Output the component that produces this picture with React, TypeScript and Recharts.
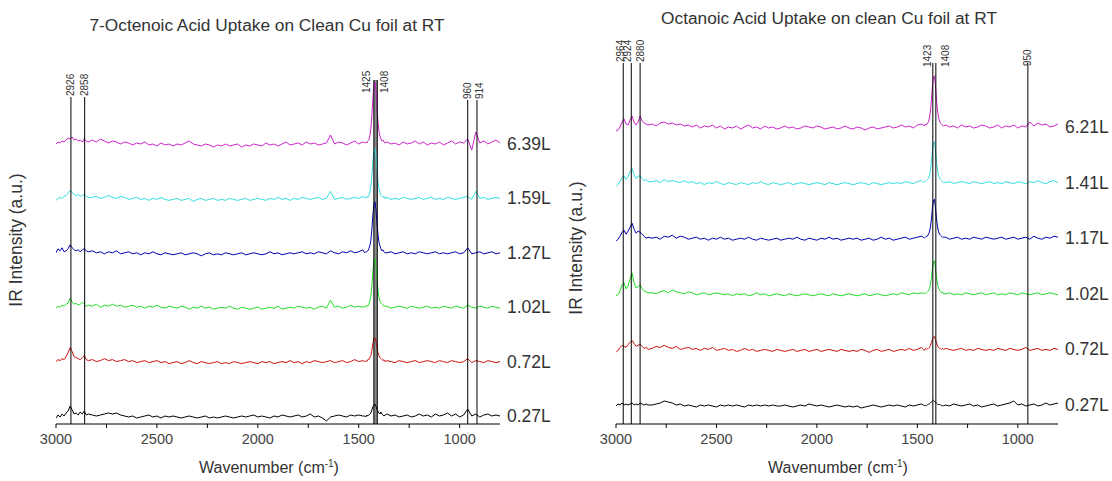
import React from "react";
import {
  LineChart,
  Line,
  XAxis,
  YAxis,
  ReferenceLine,
  ReferenceDot,
  ReferenceArea,
} from "recharts";

const FONT = '"Liberation Sans", Arial, sans-serif';

// wavenumber grid (cm-1), denser around the C-H and COO- bands
const WN = [
  3000, 2990, 2980, 2970, 2960, 2950, 2940, 2930, 2920, 2910, 2900, 2890, 2880, 2870, 2860, 2850, 2840,
  2820, 2800, 2780, 2760, 2740, 2720, 2700, 2680, 2660, 2640,
  2620, 2600, 2580, 2560, 2540, 2520, 2500, 2480, 2460, 2440,
  2420, 2400, 2380, 2360, 2340, 2320, 2300, 2280, 2260, 2240,
  2220, 2200, 2180, 2160, 2140, 2120, 2100, 2080, 2060, 2040,
  2020, 2000, 1980, 1960, 1940, 1920, 1900, 1880, 1860, 1840,
  1820, 1800, 1780, 1760, 1740, 1720, 1700, 1680, 1660, 1640,
  1620, 1600, 1580, 1560, 1540, 1520, 1500, 1480,
  1470, 1465, 1460, 1455, 1450, 1445, 1440, 1435, 1430, 1425, 1420, 1415, 1410, 1405, 1400, 1395, 1390, 1385, 1380, 1375, 1370,
  1360, 1340, 1320, 1300, 1280, 1260, 1240, 1220, 1200, 1180,
  1160, 1140, 1120, 1100, 1080, 1060, 1040, 1020, 1000, 980,
  960, 940, 920, 900, 880, 860, 840, 820, 800,
];

// ---- 7-octenoic acid (left) ----
const L_027 = [
  -1, 2, 0, 3, 1, 4, 6, 11, 7, 3, 4, 2, 5, 3, 6, 2, 3,
  2, 1, 2, 3, 4, 3, 4, 2, 1, 0,
  1, -1, 0, 1, 2, 0, 1, -1, 1, 0,
  1, 0, -1, 0, 1, 0, -1, 0, 1, -1,
  0, -1, 0, 1, 0, -1, 0, 1, 0, 1,
  2, 0, 1, 0, -1, 1, 0, 2, 1, 0,
  1, 2, 0, 1, 3, 0, 1, -1, -4, 0,
  1, 2, 1, 0, 2, 1, 2, 1,
  1, 0, 2, 1, 2, 3, 4, 7, 10, 12, 13, 11, 8, 6, 4, 3, 5, 3, 2, 1, 2,
  3, 1, 2, 0, 1, 2, 0, 1, 3, 1,
  2, 0, 3, 1, 2, 4, 1, 3, 0, 2,
  8, 1, 3, 0, 2, 3, 1, 2, 1,
];
const L_072 = [
  1, 3, 2, 4, 3, 6, 10, 15, 11, 6, 5, 4, 3, 5, 7, 3, 2,
  3, 1, 2, 4, 2, 3, 1, 2, 3, 1,
  2, 0, 1, 2, 0, 1, 2, 0, 1, -1,
  0, 1, -1, 0, 2, 0, -1, 1, 0, -1,
  0, 1, -1, 0, -1, 1, 0, -1, 0, 1,
  0, -1, 1, 0, 1, -1, 0, 1, 0, 2,
  0, 1, -1, 1, 0, 2, 1, 0, 1, 2,
  0, 1, 2, 0, 1, 3, 1, 2,
  1, 2, 1, 3, 3, 5, 7, 12, 19, 24, 25, 22, 16, 10, 7, 5, 4, 3, 2, 3, 1,
  2, 1, 0, 2, 1, 0, 1, 2, 0, 1,
  2, 1, 0, 2, 1, 0, 2, 1, 0, 1,
  4, 0, 2, 1, 0, 2, 1, 0, 1,
];
const L_102 = [
  0, 2, 1, 3, 2, 4, 5, 10, 6, 4, 5, 3, 4, 6, 4, 2, 3,
  2, 4, 1, 3, 2, 4, 2, 3, 1, 2,
  3, 1, 2, 0, 2, 1, 3, 1, 0, 2,
  1, 0, 2, 1, -1, 1, 0, 2, 0, 1,
  -1, 0, 1, 0, 2, 0, -1, 1, 0, -1,
  0, 1, -1, 0, 1, 0, 2, -1, 0, 1,
  0, 2, 1, 0, 1, -1, 1, 2, 0, 8,
  1, 2, 0, 1, 3, 1, 2, 1,
  2, 1, 3, 2, 4, 7, 12, 22, 36, 47, 50, 44, 31, 19, 11, 7, 5, 4, 3, 2, 2,
  2, 0, 1, 2, 1, 0, 2, 1, 0, 1,
  2, 0, 1, 0, 2, 1, 0, 2, 1, 0,
  3, 1, 0, 2, 1, 0, 2, 1, 0,
];
const L_127 = [
  1, 5, 3, 6, 2, 3, 5, 9, 6, 4, 3, 4, 2, 4, 5, 3, 2,
  3, 1, 2, 0, 2, 1, 3, 0, 1, 2,
  0, 1, -1, 1, 0, 2, 0, -1, 1, 0,
  -1, 0, 1, -1, 0, 1, 0, -2, 0, 1,
  -1, 0, -1, 1, 0, -1, 0, 1, -1, 0,
  1, 0, -1, 0, 2, 0, 1, -1, 0, 1,
  0, 1, 2, 0, 1, 0, 2, 1, 0, 3,
  1, 0, 2, 1, 3, 1, 2, 4,
  1, 2, 2, 3, 5, 8, 13, 24, 38, 49, 52, 45, 32, 20, 12, 8, 5, 3, 4, 2, 1,
  1, 2, 0, 1, 2, 0, 1, 0, 2, 1,
  0, 1, 2, 0, 1, 0, 1, 2, 0, 1,
  6, 0, 1, 2, 0, 1, 2, 0, 1,
];
const L_159 = [
  -1, 1, 2, 1, 3, 4, 6, 9, 7, 5, 4, 5, 3, 4, 5, 3, 2,
  2, 3, 1, 2, 4, 2, 1, 3, 2, 0,
  1, 2, 0, 1, -1, 1, 0, 2, 0, -1,
  0, 1, -1, 0, 1, -2, 0, 1, -1, 0,
  1, -1, 0, -1, 1, 0, -1, 0, 1, -1,
  0, 1, 0, -1, 1, 0, 2, 0, 1, -1,
  1, 0, 2, 1, 0, 1, 2, 0, 1, 8,
  0, 1, 2, 0, 1, 2, 1, 3,
  2, 1, 3, 2, 4, 7, 13, 23, 37, 48, 51, 45, 31, 19, 11, 7, 4, 3, 2, 3, 1,
  2, 0, 1, 0, 2, 1, 0, 1, 2, 0,
  1, 2, 0, 1, 0, 2, 1, 0, 1, 2,
  3, 0, 8, 1, 2, 0, 1, 2, 1,
];
const L_639 = [
  1, 3, 2, 4, 3, 5, 7, 6, 8, 5, 6, 4, 5, 3, 6, 4, 3,
  5, 3, 6, 4, 2, 4, 3, 1, 3, 2,
  0, 2, 1, 3, 0, 1, -1, 2, 0, 1,
  -1, 1, 0, 2, 4, 1, 0, -1, 1, 0,
  -2, 0, -1, 1, -1, 0, 1, -2, 0, -1,
  1, 0, -1, 2, 0, 1, -1, 1, 3, 0,
  1, 2, 0, 3, 1, 2, 0, 1, 2, 10,
  1, 3, 2, 0, 2, 4, 1, 3,
  2, 3, 2, 4, 5, 9, 16, 29, 46, 59, 63, 55, 39, 24, 14, 9, 6, 4, 5, 3, 2,
  3, 1, 2, 0, 3, 1, 2, 4, 1, 3,
  0, 2, 1, 3, 0, 2, 4, 1, 3, 2,
  6, -5, 13, 2, 4, 1, 3, 5, 2,
];

// ---- octanoic acid (right) ----
const R_027 = [
  0, 2, 1, 3, 1, 2, 1, 2, 3, 1, 2, 1, 3, 2, 1, 2, 1,
  1, 2, 3, 5, 4, 3, 1, 2, 0, 1,
  0, -1, 1, 0, 1, 0, -1, 1, 0, 1,
  0, 1, 0, -1, 1, 0, 1, 0, 1, 0,
  1, 0, 0, 1, 0, -1, 0, 1, 0, 2,
  1, 0, 1, 0, -1, 0, 1, 0, -1, 0,
  -1, 0, -2, -1, 0, 1, 0, -1, 0, 1,
  0, 1, 0, -1, 1, 0, 1, 2,
  1, 0, 1, 0, 1, 2, 2, 3, 4, 5, 6, 5, 4, 3, 2, 1, 2, 1, 0, 1, 0,
  1, 0, 2, 1, 0, 1, 2, 0, 1, -1,
  0, 1, 2, 0, 1, 2, 3, 5, 1, 2,
  0, 1, 2, 0, 1, 3, 1, 2, 3,
];
const R_072 = [
  -2, 0, 3, 5, 4, 3, 6, 8, 10, 7, 4, 5, 6, 4, 2, 3, 1,
  2, 4, 3, 5, 3, 2, 4, 1, 2, 3,
  1, 2, 0, 2, 1, 3, 0, 1, 2, 0,
  1, -1, 0, 2, 0, 1, -1, 0, 1, 0,
  -1, 1, 0, -1, 0, 1, -1, 0, 1, -1,
  0, 1, -1, 0, 1, 0, -1, 1, 0, -1,
  0, -1, 1, 0, -2, 0, 1, -1, 0, 1,
  -1, 0, 1, 0, 2, 0, 1, 3,
  1, 0, 2, 1, 2, 2, 3, 5, 8, 11, 13, 14, 11, 8, 5, 3, 2, 2, 1, 2, 1,
  2, 1, 0, 1, 2, 0, 1, 0, 2, 1,
  0, 1, 0, 2, 1, 0, 2, 1, 0, 1,
  3, 0, 1, 2, 0, 1, 0, 2, 1,
];
const R_102 = [
  -1, 0, 4, 10, 12, 6, 9, 16, 22, 12, 7, 8, 10, 6, 4, 3, 2,
  2, 1, 3, 4, 2, 5, 3, 2, 1, 3,
  2, 0, 1, 2, 0, 1, 2, 1, 0, 1,
  -1, 1, 0, 1, -1, 0, 2, 0, 1, -1,
  0, 1, 0, -1, 1, 0, -1, 0, 1, 0,
  -1, 0, 1, 0, -1, 1, 0, -1, 0, 1,
  0, -1, 0, 1, -1, 0, 1, 0, -1, 0,
  1, 0, 2, 1, 0, 2, 1, 2,
  1, 2, 1, 2, 3, 4, 6, 10, 17, 26, 33, 34, 27, 18, 11, 7, 5, 3, 2, 3, 1,
  1, 2, 0, 1, 0, 2, 1, 0, 1, 2,
  0, 1, 2, 0, 1, 0, 2, 1, 0, 2,
  1, 0, 1, 2, 0, 1, 2, 1, 0,
];
const R_117 = [
  -2, 0, 3, 7, 9, 5, 8, 12, 16, 10, 6, 8, 7, 5, 3, 1, 2,
  1, 2, 0, 3, 2, 4, 1, 3, 2, 0,
  1, 2, 0, 1, -1, 1, 0, 2, 0, 1,
  -1, 0, 1, 0, 2, 0, -1, 1, 0, -1,
  0, 1, -1, 0, 1, 0, 2, 0, -1, 1,
  0, -1, 1, 0, 2, 0, 1, -1, 0, 1,
  0, 1, -1, 0, 1, -1, 0, 2, 0, 1,
  -1, 0, 1, 2, 0, 1, 2, 3,
  2, 1, 2, 3, 3, 5, 7, 12, 20, 31, 39, 40, 32, 21, 13, 8, 5, 4, 3, 2, 2,
  2, 0, 1, 2, 0, 1, 0, 2, 1, 0,
  2, 1, 0, 1, 2, 0, 1, 2, 0, 1,
  2, 0, 3, 1, 0, 2, 1, 3, 2,
];
const R_141 = [
  -3, -1, 2, 6, 8, 4, 7, 12, 15, 9, 5, 7, 8, 5, 3, 4, 2,
  2, 3, 1, 4, 2, 3, 2, 1, 3, 1,
  2, 0, 1, -1, 1, 0, 2, 0, -1, 1,
  0, -1, 1, 0, -1, 1, 0, 2, 0, -1,
  1, 0, -1, 0, 1, -1, 0, 1, 0, -1,
  0, 1, 0, -1, 1, 0, -1, 0, 1, 0,
  -1, 0, 1, 0, -1, 1, 0, -1, 0, 1,
  0, 1, 0, 2, 1, 0, 2, 3,
  1, 2, 2, 3, 4, 5, 8, 13, 22, 33, 41, 42, 34, 22, 14, 8, 6, 4, 3, 2, 1,
  1, 2, 0, 1, 2, 1, 0, 2, 1, 0,
  1, 2, 0, 1, 0, 2, 1, 0, 2, 1,
  0, 2, 1, 3, 1, 0, 2, 3, 1,
];
const R_621 = [
  -3, -2, 1, 6, 9, 4, 3, 8, 12, 6, 3, 6, 12, 7, 5, 4, 3,
  4, 2, 5, 6, 4, 5, 3, 4, 2, 3,
  1, 3, 0, 2, 1, 3, 0, 2, -1, 1,
  0, 2, -1, 1, 3, 0, 1, -1, 2, 0,
  1, -1, 0, 2, 0, 1, -1, 0, 2, 1,
  0, 2, 1, -1, 0, 1, -1, 0, 2, 0,
  -1, 1, 0, -2, 0, 1, -1, 0, 1, 2,
  0, 1, 3, 1, 2, 0, 3, 4,
  3, 2, 4, 3, 5, 6, 10, 17, 28, 42, 51, 52, 43, 29, 18, 11, 7, 5, 4, 3, 2,
  3, 1, 2, 0, 3, 1, 2, 0, 1, 3,
  2, 0, 1, 3, 0, 2, 1, 3, 0, 2,
  1, 6, 2, 5, 3, 4, 1, 2, 4,
];

const LEFT_NAMES = ["0.27L", "0.72L", "1.02L", "1.27L", "1.59L", "6.39L"];
const RIGHT_NAMES = ["0.27L", "0.72L", "1.02L", "1.17L", "1.41L", "6.21L"];
const COLORS = ["#000000", "#cc1111", "#22dd22", "#0000aa", "#33dddd", "#cc22cc"];

const LEFT_PEAKS = [2926, 2858, 1425, 1408, 960, 914];
const RIGHT_PEAKS = [2964, 2924, 2880, 1423, 1408, 950];

const X_TICKS = [3000, 2750, 2500, 2250, 2000, 1750, 1500, 1250, 1000];

// stacking offsets and vertical layout (y units = px of the plot)
const LEFT_OFFSETS = [0, 54.4, 108.8, 163.2, 217.6, 272];
const RIGHT_OFFSETS = [0, 55.6, 111.2, 166.8, 222.4, 278];
const LEFT_Y_TICKS = [0, 27.2, 54.4, 81.6, 108.8, 136, 163.2, 190.4, 217.6, 244.8, 272, 299.2, 326.4, 353.6];
const RIGHT_Y_TICKS = [0, 27.8, 55.6, 83.4, 111.2, 139, 166.8, 194.6, 222.4, 250.2, 278, 305.8, 333.6];

type PeakStyle = { top: number; base: number; dx: number };

const LEFT_PEAK_STYLE: PeakStyle[] = [
  { top: 320, base: 321, dx: 0 },
  { top: 320, base: 321, dx: 0 },
  { top: 337, base: 324, dx: -7 },
  { top: 337, base: 324, dx: 7 },
  { top: 317, base: 318, dx: 0 },
  { top: 317, base: 318, dx: 3 },
];
const RIGHT_PEAK_STYLE: PeakStyle[] = [
  { top: 343, base: 344, dx: -3 },
  { top: 343, base: 344, dx: -4 },
  { top: 343, base: 344, dx: 0 },
  { top: 343, base: 339, dx: -5 },
  { top: 343, base: 339, dx: 10 },
  { top: 343, base: 340, dx: 0 },
];

type ChartProps = {
  series: number[][];
  names: string[];
  offsets: number[];
  yDomain: [number, number];
  yTicks: number[];
  peaks: number[];
  peakStyle: PeakStyle[];
  margin: { top: number; right: number; bottom: number; left: number };
  band?: [number, number];
};

const SpectraChart = ({ series, names, offsets, yDomain, yTicks, peaks, peakStyle, margin, band }: ChartProps) => {
  const rows = WN.map((wn, i) => {
    const row: Record<string, number> = { wn };
    series.forEach((s, k) => {
      row[`s${k}`] = s[i] + offsets[k];
    });
    return row;
  });

  return (
    <LineChart width={556} height={481} data={rows} margin={margin}>
      <XAxis
        type="number"
        dataKey="wn"
        domain={[800, 3000]}
        reversed
        ticks={X_TICKS}
        interval={0}
        tickFormatter={(v: number) => (v % 500 === 0 ? String(v) : "")}
        height={57}
        tickSize={4}
        tickMargin={6}
        stroke="#000"
        tick={{ fill: "#444", fontSize: 14.5, fontFamily: FONT }}
        allowDataOverflow
      />
      <YAxis
        type="number"
        domain={yDomain}
        ticks={yTicks}
        interval={0}
        width={0}
        tickSize={6}
        tickFormatter={() => ""}
        stroke="#000"
        allowDataOverflow
      />
      {band && (
        <ReferenceArea
          x1={band[0]}
          x2={band[1]}
          y1={yDomain[0]}
          y2={337}
          fill="#8a8a8a"
          fillOpacity={1}
          ifOverflow="visible"
        />
      )}
      {series.map((_, k) => (
        <Line
          key={names[k]}
          type="linear"
          dataKey={`s${k}`}
          stroke={COLORS[k]}
          strokeWidth={1}
          dot={false}
          activeDot={false}
          isAnimationActive={false}
        />
      ))}
      {peaks.map((wn, k) => (
        <ReferenceLine
          key={`pl-${wn}`}
          segment={[
            { x: wn, y: yDomain[0] },
            { x: wn, y: peakStyle[k].top },
          ]}
          stroke="#000"
          strokeWidth={1}
          ifOverflow="visible"
        />
      ))}
      {peaks.map((wn, k) => (
        <ReferenceDot
          key={`pt-${wn}`}
          x={wn}
          y={peakStyle[k].base}
          ifOverflow="visible"
          shape={(p: any) => {
            const x = p.cx + peakStyle[k].dx;
            const y = p.cy;
            return (
              <text
                x={x}
                y={y}
                transform={`rotate(-90 ${x} ${y})`}
                dominantBaseline="central"
                textAnchor="start"
                fontSize={10}
                fontFamily={FONT}
                fill="#333"
              >
                {wn}
              </text>
            );
          }}
        />
      ))}
      {names.map((name, k) => (
        <ReferenceDot
          key={`nm-${name}-${k}`}
          x={800}
          y={offsets[k]}
          ifOverflow="visible"
          shape={(p: any) => (
            <text
              x={p.cx + 7}
              y={p.cy - 1}
              dominantBaseline="central"
              fontSize={17.5}
              fontFamily={FONT}
              fill="#333"
            >
              {name}
            </text>
          )}
        />
      ))}
    </LineChart>
  );
};

const Txt = ({ x, y, size, rotate, children }: { x: number; y: number; size: number; rotate?: boolean; children: React.ReactNode }) => (
  <div
    style={{
      position: "absolute",
      left: x,
      top: y,
      fontSize: size,
      lineHeight: 1,
      whiteSpace: "nowrap",
      color: "#333",
      transform: `translate(-50%, -50%)${rotate ? " rotate(-90deg)" : ""}`,
    }}
  >
    {children}
  </div>
);

const Wavenumber = () => (
  <span>
    Wavenumber (cm<sup style={{ fontSize: 10, verticalAlign: "super", lineHeight: 0 }}>-1</sup>)
  </span>
);

export default function App() {
  return (
    <div
      style={{
        position: "absolute",
        left: 0,
        top: 0,
        width: 1112,
        height: 481,
        background: "#fff",
        fontFamily: FONT,
        overflow: "hidden",
      }}
    >
      <div style={{ position: "absolute", left: 0, top: 0 }}>
        <SpectraChart
          series={[L_027, L_072, L_102, L_127, L_159, L_639]}
          names={LEFT_NAMES}
          offsets={LEFT_OFFSETS}
          yDomain={[-7, 353.6]}
          yTicks={LEFT_Y_TICKS}
          peaks={LEFT_PEAKS}
          peakStyle={LEFT_PEAK_STYLE}
          margin={{ top: 63.4, right: 56, bottom: 0, left: 56 }}
          band={[1425, 1408]}
        />
      </div>
      <div style={{ position: "absolute", left: 556, top: 0 }}>
        <SpectraChart
          series={[R_027, R_072, R_102, R_117, R_141, R_621]}
          names={RIGHT_NAMES}
          offsets={RIGHT_OFFSETS}
          yDomain={[-18, 336]}
          yTicks={RIGHT_Y_TICKS}
          peaks={RIGHT_PEAKS}
          peakStyle={RIGHT_PEAK_STYLE}
          margin={{ top: 70, right: 54, bottom: 0, left: 60 }}
        />
      </div>
      <Txt x={267} y={26} size={17.3}>7-Octenoic Acid Uptake on Clean Cu foil at RT</Txt>
      <Txt x={829} y={19} size={17.3}>Octanoic Acid Uptake on clean Cu foil at RT</Txt>
      <Txt x={17} y={240} size={17.5} rotate>IR Intensity (a.u.)</Txt>
      <Txt x={577} y={248} size={17.5} rotate>IR Intensity (a.u.)</Txt>
      <Txt x={269} y={468} size={16}><Wavenumber /></Txt>
      <Txt x={838} y={468} size={16}><Wavenumber /></Txt>
    </div>
  );
}
